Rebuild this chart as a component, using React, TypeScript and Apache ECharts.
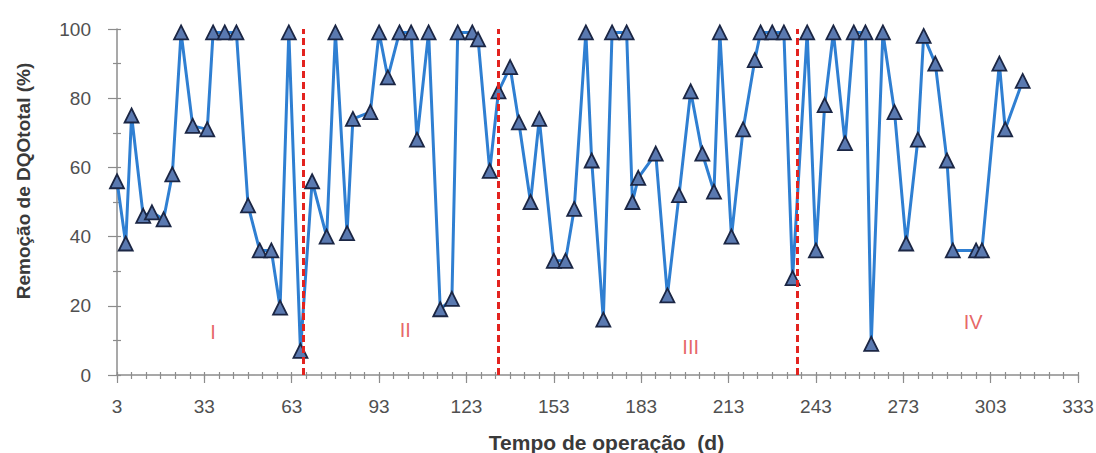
import React, { useEffect, useRef } from "react";
import * as echarts from "echarts";

const days: number[] = [
  3, 6, 8, 12, 15, 19, 22, 25, 29, 34, 36, 40, 44, 48, 52, 56, 59, 62, 66, 70,
  75, 78, 82, 84, 90, 93, 96, 100, 104, 106, 110, 114, 118, 120, 125, 127, 131, 134, 138, 141,
  145, 148, 153, 157, 160, 164, 166, 170, 173, 178, 180, 182, 188, 192, 196, 200, 204, 208, 210, 214,
  218, 222, 224, 228, 232, 235, 240, 243, 246, 249, 253, 256, 260, 262, 266, 270, 274, 278, 280, 284,
  288, 290, 298, 300, 306, 308, 314,
];

const removal: number[] = [
  56, 38, 75, 46, 47, 45, 58, 99, 72, 71, 99, 99, 99, 49, 36, 36, 19.5, 99, 7, 56,
  40, 99, 41, 74, 76, 99, 86, 99, 99, 68, 99, 19, 22, 99, 99, 97, 59, 82, 89, 73,
  50, 74, 33, 33, 48, 99, 62, 16, 99, 99, 50, 57, 64, 23, 52, 82, 64, 53, 99, 40,
  71, 91, 99, 99, 99, 28, 99, 36, 78, 99, 67, 99, 99, 9, 99, 76, 38, 68, 98, 90,
  62, 36, 36, 36, 90, 71, 85,
];

const phaseBoundaries: number[] = [67, 134, 236.5];

const phaseNames: string[] = ["I", "II", "III", "IV"];
const phaseLabelX: number[] = [36, 102, 200, 297];
const phaseLabelY: number[] = [12.4, 13, 8.2, 15.4];

const xLabelValues: number[] = [3, 33, 63, 93, 123, 153, 183, 213, 243, 273, 303, 333];
const xTickStep = 5;

const FONT = "Liberation Sans";

export default function App() {
  const ref = useRef<HTMLDivElement>(null);

  useEffect(() => {
    if (!ref.current) return;
    const chart = echarts.init(ref.current, null, { renderer: "svg" });

    const xTicks: number[] = [];
    for (let v = xLabelValues[0]; v <= xLabelValues[xLabelValues.length - 1]; v += xTickStep) xTicks.push(v);

    const lineData = days.map((d, i) => [d, removal[i]]);
    const labelData = phaseNames.map((n, i) => ({ name: n, value: [phaseLabelX[i], phaseLabelY[i]] }));

    const axisColor = "#8c8c8c";
    const labelColor = "#505050";

    chart.setOption({
      animation: false,
      backgroundColor: "#ffffff",
      grid: { left: 117, right: 18, top: 29, bottom: 78, containLabel: false, outerBoundsMode: "none" },
      xAxis: [
        {
          type: "value",
          min: 3,
          max: 333,
          name: "Tempo de operação  (d)",
          nameLocation: "middle",
          nameGap: 57,
          nameTextStyle: { fontFamily: FONT, fontSize: 21, fontWeight: "bold", color: "#3a3a3a", padding: [0, 0, 0, 18] },
          axisLine: { show: true, lineStyle: { color: axisColor, width: 1.5 } },
          axisTick: { show: true, customValues: xTicks, length: 4, lineStyle: { color: axisColor, width: 1.2 } },
          axisLabel: {
            show: true,
            customValues: xLabelValues,
            fontFamily: FONT,
            fontSize: 19,
            color: labelColor,
            margin: 22,
          },
          splitLine: { show: false },
        },
        {
          type: "value",
          min: 3,
          max: 333,
          position: "bottom",
          axisLine: { show: false },
          axisTick: { show: true, customValues: xLabelValues, length: 8, lineStyle: { color: axisColor, width: 1.2 } },
          axisLabel: { show: false },
          splitLine: { show: false },
        },
        {
          type: "value",
          min: 3,
          max: 333,
          position: "bottom",
          axisLine: { show: false },
          axisTick: { show: true, inside: true, customValues: xTicks, length: 3, lineStyle: { color: axisColor, width: 1.2 } },
          axisLabel: { show: false },
          splitLine: { show: false },
        },
      ],
      yAxis: [
        {
          type: "value",
          min: 0,
          max: 100,
          interval: 20,
          name: "Remoção de DQOtotal (%)",
          nameLocation: "middle",
          nameGap: 84,
          nameRotate: 90,
          nameTextStyle: { fontFamily: FONT, fontSize: 19, fontWeight: "bold", color: "#3a3a3a", padding: [0, 0, 0, 42] },
          axisLine: { show: true, lineStyle: { color: axisColor, width: 1.5 } },
          axisTick: { show: true, length: 9, lineStyle: { color: axisColor, width: 1.2 } },
          minorTick: { show: true, splitNumber: 2, length: 4, lineStyle: { color: axisColor, width: 1.2 } },
          axisLabel: { fontFamily: FONT, fontSize: 19, color: labelColor, margin: 26 },
          splitLine: { show: false },
          minorSplitLine: { show: false },
        },
        {
          type: "value",
          min: 0,
          max: 100,
          interval: 10,
          position: "left",
          axisLine: { show: false },
          axisTick: { show: true, inside: true, length: 4, lineStyle: { color: axisColor, width: 1.2 } },
          axisLabel: { show: false },
          splitLine: { show: false },
        },
      ],
      series: [
        {
          type: "line",
          data: lineData,
          xAxisIndex: 0,
          yAxisIndex: 0,
          symbol: "triangle",
          symbolSize: 14,
          lineStyle: { color: "#2f7fd2", width: 3 },
          itemStyle: { color: "#5a79b0", borderColor: "#1b2644", borderWidth: 1.8 },
          z: 3,
          markLine: {
            silent: true,
            symbol: ["none", "none"],
            label: { show: false },
            lineStyle: { color: "#e3231f", type: [7, 4], width: 3 },
            data: phaseBoundaries.map((b) => ({ xAxis: b })),
            z: 5,
          },
        },
        {
          type: "scatter",
          data: labelData,
          xAxisIndex: 0,
          yAxisIndex: 0,
          symbolSize: 1,
          itemStyle: { color: "rgba(0,0,0,0)" },
          label: {
            show: true,
            position: "inside",
            formatter: (p: any) => p.name,
            fontFamily: FONT,
            fontSize: 20,
            color: "#e04040",
          },
          z: 4,
        },
      ],
    });

    return () => chart.dispose();
  }, []);

  return (
    <div
      ref={ref}
      style={{ position: "absolute", left: 0, top: 0, width: 1096, height: 453, background: "#fff" }}
    />
  );
}
